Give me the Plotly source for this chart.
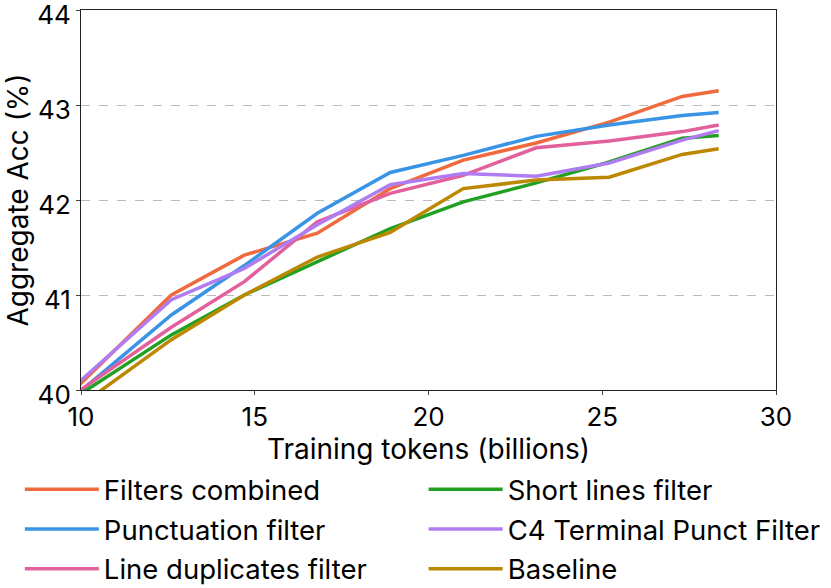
import plotly.graph_objects as go

# training tokens (billions)
tokens = [8.4, 10.5, 12.6, 14.7, 16.8, 18.9, 21.0, 23.1, 25.2, 27.3, 28.35]

filters_combined = [39.5, 40.25, 41.0, 41.42, 41.65, 42.12, 42.42, 42.6, 42.82, 43.09, 43.15]
punctuation_filter = [39.5, 40.15, 40.79, 41.31, 41.86, 42.29, 42.47, 42.67, 42.79, 42.89, 42.92]
line_dup_filter = [39.6, 40.13, 40.66, 41.14, 41.77, 42.07, 42.26, 42.55, 42.62, 42.72, 42.79]
short_lines_filter = [39.58, 40.08, 40.58, 41.0, 41.35, 41.70, 41.98, 42.18, 42.40, 42.65, 42.68]
c4_terminal_punct = [39.58, 40.26, 40.95, 41.28, 41.74, 42.16, 42.28, 42.25, 42.39, 42.63, 42.73]
baseline = [39.42, 39.97, 40.53, 41.0, 41.40, 41.66, 42.12, 42.21, 42.24, 42.48, 42.54]

y_ticks = [40, 41, 42, 43, 44]
x_ticks = [10, 15, 20, 25, 30]

series = [
    ("Filters combined", filters_combined, "#EF6A3C", "legend"),
    ("Punctuation filter", punctuation_filter, "#3A94E6", "legend"),
    ("Line duplicates filter", line_dup_filter, "#E2609C", "legend"),
    ("Short lines filter", short_lines_filter, "#22A022", "legend2"),
    ("C4 Terminal Punct Filter", c4_terminal_punct, "#B07CF2", "legend2"),
    ("Baseline", baseline, "#BC8800", "legend2"),
]

fig = go.Figure()
for name, vals, color, leg in series:
    fig.add_trace(go.Scatter(x=tokens, y=vals, name=name, mode="lines",
                             line=dict(color=color, width=3.5),
                             legend=leg, legendgroup=name))

font = dict(family="Inter, sans-serif", size=28, color="black")
tick_font = dict(family="Inter, sans-serif", size=26, color="black")
legend_font = dict(family="Inter, sans-serif", size=27.5, color="black")
legend_style = dict(font=legend_font, bgcolor="rgba(0,0,0,0)", tracegroupgap=1,
                    yanchor="top", xanchor="left", itemwidth=74)

fig.update_layout(
    width=831, height=588,
    margin=dict(l=81, r=55, t=10, b=198, autoexpand=False),
    plot_bgcolor="white", paper_bgcolor="white",
    font=font,
    legend=dict(x=-0.088, y=-0.197, **legend_style),
    legend2=dict(x=0.493, y=-0.197, **legend_style),
)
fig.update_xaxes(range=[10, 30], tickvals=x_ticks, ticks="outside", ticklen=4,
                 tickfont=tick_font,
                 showline=True, linecolor="#222", linewidth=1, mirror=True,
                 showgrid=False, zeroline=False, automargin=True,
                 ticklabeloverflow="allow",
                 title=dict(text="Training tokens (billions)", font=font, standoff=0))
fig.update_yaxes(range=[40, 44], tickvals=y_ticks, ticks="outside", ticklen=4,
                 tickfont=tick_font, ticklabelshift=5,
                 showline=True, linecolor="#222", linewidth=1, mirror=True,
                 showgrid=True, gridcolor="#bbbbbb", griddash="dash", gridwidth=1,
                 zeroline=False, automargin=True, ticklabeloverflow="allow",
                 title=dict(text="Aggregate Acc (%)", font=font, standoff=0))

# page has a default body margin; drop it so the figure sits at the window corner
fig.write_html("out.html", config={"displayModeBar": False},
               post_script="document.body.style.margin='0';")
